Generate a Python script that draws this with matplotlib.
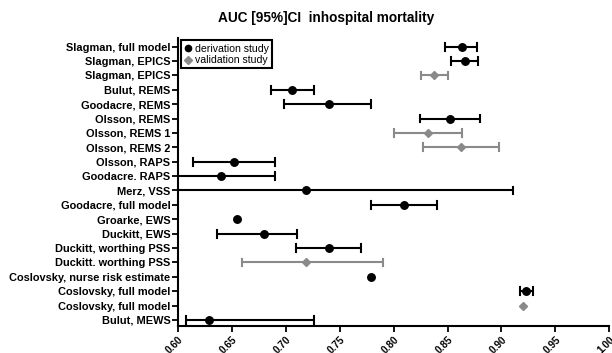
import matplotlib
matplotlib.use("Agg")
import matplotlib.pyplot as plt
from matplotlib.lines import Line2D
import numpy as np

plt.rcParams["font.family"] = ["Liberation Sans", "DejaVu Sans"]

labels = ["Slagman, full model", "Slagman, EPICS", "Slagman, EPICS", "Bulut, REMS",
          "Goodacre, REMS", "Olsson, REMS", "Olsson, REMS 1", "Olsson, REMS 2",
          "Olsson, RAPS", "Goodacre. RAPS", "Merz, VSS", "Goodacre, full model",
          "Groarke, EWS", "Duckitt, EWS", "Duckitt, worthing PSS", "Duckitt. worthing PSS",
          "Coslovsky, nurse risk estimate", "Coslovsky, full model", "Coslovsky, full model",
          "Bulut, MEWS"]
auc = [0.863, 0.866, 0.837, 0.706, 0.740, 0.852, 0.832, 0.862, 0.652, 0.640,
       0.719, 0.810, 0.655, 0.680, 0.740, 0.719, 0.779, 0.923, 0.920, 0.629]
ci_low = [0.848, 0.853, 0.825, 0.686, 0.698, 0.824, 0.800, 0.827, 0.614, 0.590,
          0.530, 0.779, None, 0.636, 0.709, 0.659, None, 0.917, None, 0.607]
ci_high = [0.877, 0.878, 0.850, 0.726, 0.779, 0.880, 0.863, 0.898, 0.690, 0.690,
           0.911, 0.840, None, 0.710, 0.770, 0.790, None, 0.929, None, 0.726]
study = ["d", "d", "v", "d", "d", "d", "v", "v", "d", "d",
         "d", "d", "d", "d", "d", "v", "d", "d", "v", "d"]
xticks = [0.60, 0.65, 0.70, 0.75, 0.80, 0.85, 0.90, 0.95, 1.00]

fig = plt.figure(figsize=(6.12, 3.53), dpi=100)
ax = fig.add_axes([178/612, 27/353, (609.3-178)/612, (326-38)/353])

black = "#000000"
gray = "#8a8a8a"
for i, (a, lo, hi, s) in enumerate(zip(auc, ci_low, ci_high, study)):
    col = black if s == "d" else gray
    if lo is not None:
        ax.plot([lo, hi], [i, i], color=col, lw=1.5, solid_capstyle="butt", zorder=2)
        for e in (lo, hi):
            ax.plot([e, e], [i - 0.27, i + 0.27], color=col, lw=1.5, zorder=2)
    if s == "d":
        ax.plot(a, i, "o", color=black, ms=5.4, zorder=3)
    else:
        ax.plot(a, i, "D", color=gray, ms=4.0, zorder=3)

ax.set_xlim(0.60, 1.00)
ax.set_ylim(len(labels) - 1 + 0.42, -0.6)
ax.set_yticks(range(len(labels)))
ax.set_yticklabels(labels, fontsize=7.9, fontweight="bold")
ax.set_xticks(xticks)
ax.set_xticklabels([f"{t:.2f}" for t in xticks], fontsize=7.2, fontweight="bold",
                   rotation=45, ha="right", rotation_mode="anchor")
for sp in ("top", "right"):
    ax.spines[sp].set_visible(False)
for sp in ("left", "bottom"):
    ax.spines[sp].set_linewidth(1.5)
ax.tick_params(axis="y", length=4, width=1.3, pad=1.5)
ax.tick_params(axis="x", length=4, width=1.3, pad=2)

handles = [Line2D([], [], marker="o", color=black, ls="none", ms=4.5),
           Line2D([], [], marker="D", color=gray, ls="none", ms=3.8)]
leg = ax.legend(handles, ["derivation study", "validation study"],
                loc="upper left", bbox_to_anchor=(0.005, 0.995), fontsize=7.6,
                fancybox=False, framealpha=1, edgecolor="black",
                handlelength=0.6, handletextpad=0.4, borderpad=0.3,
                labelspacing=0.15, borderaxespad=0.1)
leg.get_frame().set_linewidth(1.5)

fig.text(325.7/612, 1 - 18/353, "AUC [95%]CI  inhospital mortality",
         ha="center", va="center", fontsize=9.8, fontweight="bold")

fig.savefig("out.png", dpi=100)
